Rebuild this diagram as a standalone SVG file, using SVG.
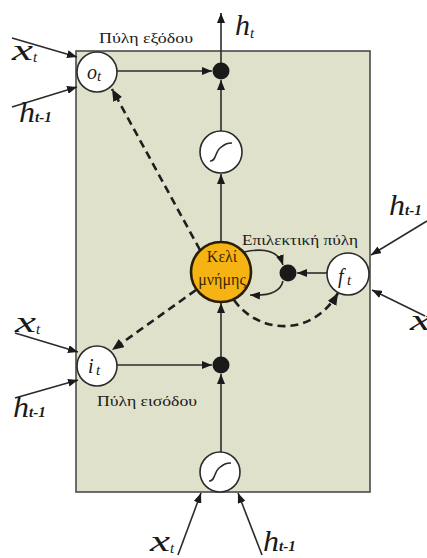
<svg xmlns="http://www.w3.org/2000/svg" width="427" height="558" viewBox="0 0 427 558">
<style>
.ln{stroke:#2b2b2b;stroke-width:1.6;fill:none}
.dash{stroke:#1e1e1e;stroke-width:2.6;fill:none;stroke-dasharray:8 5}
.gate{fill:#ffffff;stroke:#2b2b2b;stroke-width:1.6}
.dot{fill:#1a1a1a}
.m{font-family:"Liberation Serif",serif;font-style:italic;font-size:29px;fill:#1a1a1a}
.s{font-family:"Liberation Serif",serif;font-style:italic;font-size:15px;fill:#1a1a1a}
.sb{font-family:"Liberation Serif",serif;font-style:italic;font-weight:bold;font-size:15px;fill:#1a1a1a}
.g{font-family:"Liberation Serif",serif;font-size:14px;fill:#1a1a1a}
.c{font-family:"Liberation Serif",serif;font-size:16px;fill:#3a2800;text-anchor:middle}
.gl{font-family:"Liberation Serif",serif;font-style:italic;font-size:20px;fill:#1a1a1a}
</style>
<defs>
<marker id="ah" markerUnits="userSpaceOnUse" markerWidth="11" markerHeight="8" refX="10" refY="4" orient="auto">
<path d="M0,0 L10,4 L0,8 z" fill="#1a1a1a"/>
</marker>
<marker id="ahd" markerUnits="userSpaceOnUse" markerWidth="13" markerHeight="10" refX="12" refY="5" orient="auto">
<path d="M0,0 L12,5 L0,10 z" fill="#1a1a1a"/>
</marker>
</defs>
<rect x="76" y="51" width="294" height="441" fill="#dfe1cb" stroke="#4a4a4a" stroke-width="1.6"/>

<g id="connectors">
<line class="ln" x1="12" y1="38" x2="77" y2="57" marker-end="url(#ah)"/>
<line class="ln" x1="12" y1="107" x2="77" y2="87" marker-end="url(#ah)"/>
<line class="ln" x1="15" y1="333" x2="78" y2="352" marker-end="url(#ah)"/>
<line class="ln" x1="15" y1="398" x2="78" y2="380" marker-end="url(#ah)"/>
<line class="ln" x1="427" y1="221" x2="371" y2="255" marker-end="url(#ah)"/>
<line class="ln" x1="425" y1="316" x2="372" y2="290" marker-end="url(#ah)"/>
<line class="ln" x1="178" y1="555" x2="201" y2="493" marker-end="url(#ah)"/>
<line class="ln" x1="262" y1="555" x2="238" y2="493" marker-end="url(#ah)"/>
<line class="ln" x1="221" y1="453" x2="221" y2="374" marker-end="url(#ah)"/>
<line class="ln" x1="221" y1="357" x2="221" y2="303" marker-end="url(#ah)"/>
<line class="ln" x1="221" y1="242" x2="221" y2="174" marker-end="url(#ah)"/>
<line class="ln" x1="221" y1="131" x2="221" y2="80" marker-end="url(#ah)"/>
<line class="ln" x1="221" y1="63" x2="221" y2="13" marker-end="url(#ah)"/>
<line class="ln" x1="117" y1="71" x2="212" y2="71" marker-end="url(#ah)"/>
<line class="ln" x1="117" y1="365" x2="212" y2="365" marker-end="url(#ah)"/>
<line class="ln" x1="327" y1="273" x2="297" y2="273" marker-end="url(#ah)"/>
<path class="ln" d="M244,252 C262,248 278,250 283,265" marker-end="url(#ah)"/>
<path class="ln" d="M283,281 C280,294 266,296 250,295" marker-end="url(#ah)"/>
<line class="dash" x1="200" y1="250" x2="112" y2="89" marker-end="url(#ahd)"/>
<line class="dash" x1="196" y1="290" x2="112" y2="350" marker-end="url(#ahd)"/>
<path class="dash" d="M234,300 C258,334 312,338 338,293" marker-end="url(#ahd)"/>
</g>

<g id="node-ot">
<circle class="gate" cx="97" cy="72" r="20"/>
<text class="gl" x="87" y="79">o</text><text class="s" x="97" y="81" font-size="11">t</text>
</g>
<g id="node-out-dot"><circle class="dot" cx="221" cy="71" r="8.5"/></g>
<g id="node-tanh-top">
<circle class="gate" cx="221" cy="152" r="21"/>
<path class="ln" d="M210,161 C216,162 215,152 220,148 C225,144 227,143 232,143" stroke-width="2"/>
</g>
<g id="node-cell">
<circle cx="221" cy="272" r="30" fill="#f6b414" stroke="#2a1e08" stroke-width="2.6"/>
<text class="c" x="222" y="262">Κελί</text>
<text class="c" x="222" y="285" font-size="15">μνήμης</text>
</g>
<g id="node-sel-dot"><circle class="dot" cx="288" cy="273" r="8.5"/></g>
<g id="node-ft">
<circle class="gate" cx="348" cy="274" r="21"/>
<text class="gl" x="338" y="283">f</text><text class="s" x="347" y="285" font-size="11">t</text>
</g>
<g id="node-it">
<circle class="gate" cx="97" cy="366" r="20"/>
<text class="gl" x="88" y="373">i</text><text class="s" x="96" y="375" font-size="11">t</text>
</g>
<g id="node-in-dot"><circle class="dot" cx="221" cy="365" r="8.5"/></g>
<g id="node-tanh-bottom">
<circle class="gate" cx="220" cy="472" r="20"/>
<path class="ln" d="M209,481 C215,482 214,472 219,468 C224,464 226,463 231,463" stroke-width="2"/>
</g>

<g id="labels">
<text class="g" x="99" y="43" textLength="94" lengthAdjust="spacingAndGlyphs">Πύλη εξόδου</text>
<text class="g" x="242" y="245" textLength="116" lengthAdjust="spacingAndGlyphs">Επιλεκτική πύλη</text>
<text class="g" x="97" y="406" textLength="100" lengthAdjust="spacingAndGlyphs">Πύλη εισόδου</text>

<text class="m" x="235" y="35" textLength="15" lengthAdjust="spacingAndGlyphs">h</text><text class="s" x="250" y="38">t</text>

<text class="m" x="12" y="60" textLength="21" lengthAdjust="spacingAndGlyphs">x</text><text class="s" x="33" y="62">t</text>
<text class="m" x="19" y="122" textLength="16" lengthAdjust="spacingAndGlyphs">h</text><text class="sb" x="35" y="122">t-1</text>

<text class="m" x="15" y="332" textLength="21" lengthAdjust="spacingAndGlyphs">x</text><text class="s" x="36" y="334">t</text>
<text class="m" x="13" y="417" textLength="16" lengthAdjust="spacingAndGlyphs">h</text><text class="sb" x="29" y="417">t-1</text>

<text class="m" x="389" y="215" textLength="16" lengthAdjust="spacingAndGlyphs">h</text><text class="sb" x="405" y="215">t-1</text>
<text class="m" x="410" y="330" textLength="21" lengthAdjust="spacingAndGlyphs">x</text>

<text class="m" x="150" y="551" textLength="20" lengthAdjust="spacingAndGlyphs">x</text><text class="s" x="170" y="553">t</text>
<text class="m" x="263" y="551" textLength="16" lengthAdjust="spacingAndGlyphs">h</text><text class="sb" x="279" y="551">t-1</text>
</g>
</svg>
